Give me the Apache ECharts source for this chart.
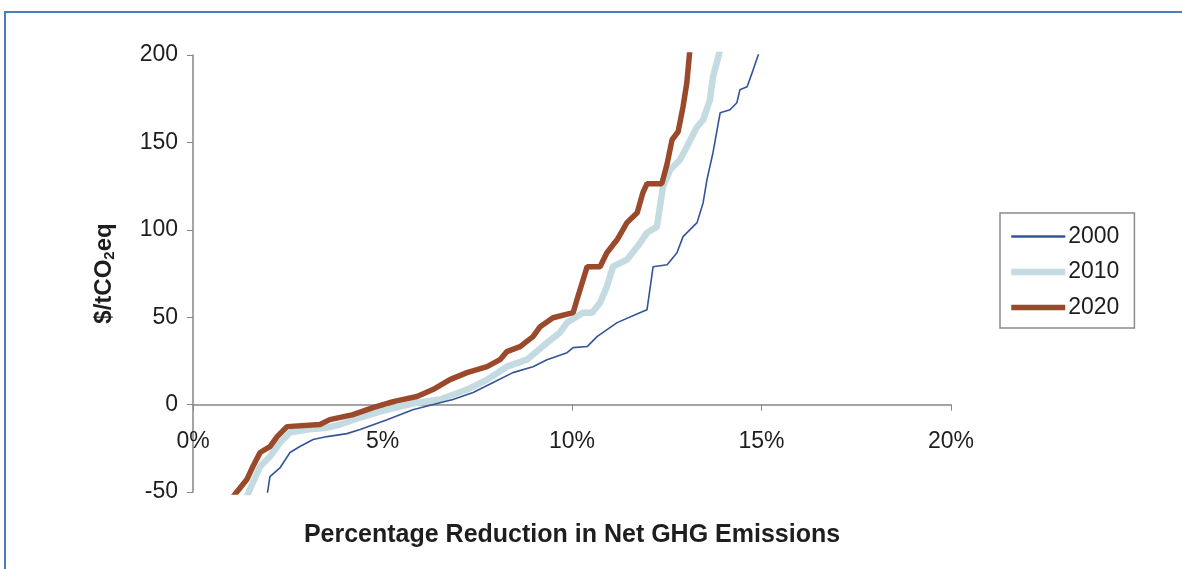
<!DOCTYPE html>
<html>
<head>
<meta charset="utf-8">
<script src="https://cdn.jsdelivr.net/npm/echarts@6/dist/echarts.min.js"></script>
<style>
html,body{margin:0;padding:0;background:#fff;}
#chart{width:1182px;height:569px;}
</style>
</head>
<body>
<div id="chart"></div>
<script>
const seriesNames = ['2000', '2010', '2020'];
const xTicks = [0, 5, 10, 15, 20];
const yTicks = [-50, 0, 50, 100, 150, 200];

const x2000 = [1.95,2.03,2.30,2.56,2.82,3.17,3.54,4.06,4.41,5.12,5.80,6.52,6.86,7.39,7.92,8.44,8.97,9.34,9.87,10.03,10.40,10.66,11.19,11.79,11.98,12.14,12.51,12.77,12.93,13.30,13.46,13.56,13.72,13.91,14.17,14.35,14.43,14.62,14.78,14.96];
const y2000 = [-52.6,-41.2,-36.0,-27.4,-24.0,-20.0,-18.3,-16.6,-14.3,-8.6,-2.9,1.1,2.9,6.9,12.6,18.3,21.7,25.7,29.7,32.6,33.2,38.9,46.9,52.6,54.3,78.9,80.0,86.9,96.1,104.1,115.5,128.6,144.1,167.0,168.7,172.7,180.1,181.8,191.5,203];

const x2010 = [1.42,1.58,1.77,2.03,2.30,2.56,3.01,3.54,3.88,4.41,4.93,5.46,5.91,6.52,7.23,7.76,8.28,8.81,9.34,9.68,9.87,10.29,10.53,10.74,10.92,11.08,11.45,11.72,11.98,12.24,12.32,12.40,12.59,12.85,13.03,13.30,13.46,13.64,13.72,13.91];
const y2010 = [-52.6,-44.6,-35.4,-29.7,-21.7,-16.0,-14.3,-13.2,-11.4,-7.4,-4.0,-1.1,1.1,2.9,8.6,14.3,21.7,25.7,35.4,41.2,46.9,52.6,52.6,58.3,67.5,78.9,82.9,90.3,98.3,101.8,113.2,124.6,134.4,140.1,147.5,158.9,162.9,174.4,187.5,203];

const x2020 = [1.06,1.42,1.58,1.77,2.03,2.22,2.48,3.35,3.61,4.22,4.75,5.28,5.91,6.33,6.78,7.23,7.76,8.10,8.28,8.63,8.97,9.16,9.50,10.03,10.13,10.40,10.74,10.92,11.19,11.45,11.72,11.87,11.98,12.37,12.51,12.64,12.80,12.93,13.03,13.11];
const y2020 = [-52.6,-42.9,-35.4,-27.4,-24.0,-18.3,-12.6,-11.4,-8.6,-5.7,-1.7,1.7,4.6,8.6,14.3,18.3,21.7,25.7,30.3,33.2,38.9,44.6,49.7,52.6,60.0,78.9,78.9,86.9,94.3,104.1,109.8,121.2,126.4,126.4,137.8,151.5,156.1,170.4,184.1,203];

function pairs(xs, ys){ return xs.map((x,i)=>[x, ys[i]]); }

const colors = ['#34549a', '#c4dbe1', '#9a4a2a'];
const widths = [1.6, 6.5, 5.5];
const legendWidths = [2.5, 6.5, 5.5];

const gridTop = 55, gridHeight = 437;
const yMin = yTicks[0], yMax = yTicks[yTicks.length-1];
// x axis line sits at y = 0: offset up from the grid bottom
const zeroOffset = -gridHeight * (0 - yMin) / (yMax - yMin);

const chart = echarts.init(document.getElementById('chart'));
const font = 'Liberation Sans, Arial, sans-serif';
const txt = '#1e1e1e';
chart.setOption({
  animation: false,
  backgroundColor: '#ffffff',
  textStyle: {fontFamily: font},
  graphic: [{
    type: 'polyline',
    shape: {points: [[5,569],[5,12],[1182,12]]},
    style: {stroke: '#4a7ebb', lineWidth: 2, fill: null},
    silent: true
  }],
  grid: {left: 193, top: gridTop, width: 758, height: gridHeight, containLabel: false, outerBoundsMode: 'none'},
  legend: {
    orient: 'vertical',
    left: 1000, top: 213,
    data: seriesNames.map((n, i) => ({name: n, lineStyle: {width: legendWidths[i], color: colors[i]}})),
    itemWidth: 54, itemHeight: 14, itemGap: 12.5,
    itemStyle: {opacity: 0},
    padding: [12, 15, 9, 8],
    borderColor: '#8c8c8c', borderWidth: 1.5,
    textStyle: {fontSize: 23, color: txt, fontFamily: font, padding: [0,0,0,-2]}
  },
  xAxis: {
    type: 'value', min: xTicks[0], max: xTicks[xTicks.length-1], interval: 5,
    offset: zeroOffset,
    axisLine: {onZero: false, lineStyle: {color: '#868686', width: 1.5}},
    axisTick: {show: true, inside: false, length: 6, lineStyle: {color: '#868686'}},
    splitLine: {show: false},
    axisLabel: {formatter: '{value}%', fontSize: 23, color: txt, margin: 26, fontFamily: font},
    name: 'Percentage Reduction in Net GHG Emissions',
    nameLocation: 'middle', nameGap: 118,
    nameTextStyle: {fontSize: 25, fontWeight: 'bold', color: txt, fontFamily: font}
  },
  yAxis: {
    type: 'value', min: yMin, max: yMax, interval: 50,
    axisLine: {show: true, onZero: false, lineStyle: {color: '#868686', width: 1.5}},
    axisTick: {show: true, inside: false, length: 6, lineStyle: {color: '#868686'}},
    splitLine: {show: false},
    axisLabel: {fontSize: 23, color: txt, margin: 15, fontFamily: font},
    name: '$/tCO{sub|2}eq',
    nameLocation: 'middle', nameGap: 76, nameRotate: 90,
    nameTextStyle: {
      fontSize: 24, fontWeight: 'bold', color: txt, fontFamily: font,
      rich: {sub: {fontSize: 15, fontWeight: 'bold', color: txt, verticalAlign: 'bottom', padding: [10,0,0,0], fontFamily: font}}
    }
  },
  series: seriesNames.map((n, i) => ({
    name: n, type: 'line',
    data: pairs([x2000, x2010, x2020][i], [y2000, y2010, y2020][i]),
    symbol: 'none', clip: true, z: [4, 2, 3][i],
    lineStyle: {color: colors[i], width: widths[i]},
    itemStyle: {color: colors[i]}
  }))
});
</script>
</body>
</html>
